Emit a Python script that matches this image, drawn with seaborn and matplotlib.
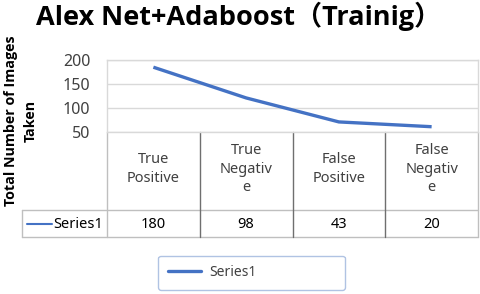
import matplotlib
matplotlib.use("Agg")
import matplotlib.pyplot as plt
import matplotlib.transforms as mtransforms
from matplotlib.lines import Line2D
import seaborn as sns
import pandas as pd

# ---- data ----
categories = ["True Positive", "True Negative", "False Positive", "False Negative"]
header_labels = ["True\nPositive", "True\nNegativ\ne", "False\nPositive", "False\nNegativ\ne"]
table_values = [180, 98, 43, 20]          # values printed in the data table
line_values = [185, 121, 71, 61]          # values
series_name = "Series1"
y_ticks = [50, 100, 150, 200]
title = "Alex Net+Adaboost（Trainig）"
y_label = "Total Number of Images\nTaken"

sns.set_theme(style="white")
plt.rcParams["font.family"] = ["Noto Sans", "Noto Sans CJK SC", "DejaVu Sans"]
BOLD_FAM = ["Open Sans", "Noto Sans CJK SC", "DejaVu Sans"]

LINE_C = "#4472C4"
GRID_C = "#d9d9d9"
TXT_C = "#404040"

fig = plt.figure(figsize=(4.8, 2.94), dpi=100)
W, H = 480, 294
ax_l, ax_r, ax_t, ax_b = 107, 478, 60, 132
ax = fig.add_axes([ax_l / W, 1 - ax_b / H, (ax_r - ax_l) / W, (ax_b - ax_t) / H])

df = pd.DataFrame({"cat": range(len(categories)), "val": line_values})
sns.lineplot(data=df, x="cat", y="val", ax=ax, color=LINE_C, linewidth=2.4,
             legend=False, solid_capstyle="butt")

ax.set_xlim(-0.5, len(categories) - 0.5)
ax.set_ylim(y_ticks[0], y_ticks[-1])
ax.set_yticks(y_ticks)
ax.set_xticks([])
ax.set_xlabel("")
ax.set_ylabel("")
ax.tick_params(axis="y", length=0, pad=12, labelsize=11.5, labelcolor=TXT_C)
for t in y_ticks:
    ax.axhline(t, color=GRID_C, linewidth=1.0, zorder=0)
for s in ax.spines.values():
    s.set_color(GRID_C)
    s.set_linewidth(1.0)

# y label (figure coords)
fig.text(21 / W, 1 - 121 / H, y_label, rotation=90, ha="center", va="center",
         fontsize=10.3, fontweight="bold", color="black", linespacing=1.5,
         family=BOLD_FAM)

# title
fig.text(239 / W, 1 - 16 / H, title, ha="center", va="center",
         fontsize=19.5, fontweight="bold", color="black", family=BOLD_FAM)

# ---- data table below the plot ----
ax_h = ax_b - ax_t
ax_w = ax_r - ax_l
def ay(px):  # figure px y -> axes fraction
    return (ax_b - px) / ax_h
def axx(px):
    return (px - ax_l) / ax_w

trans = mtransforms.blended_transform_factory(ax.transData, ax.transAxes)
header_bot, row_bot = 210, 237
left_px = 22
TBL_LIGHT = "#bfbfbf"
TBL_DARK = "#6f6f6f"

for ypx in (header_bot, row_bot):
    ax.plot([axx(left_px), 1], [ay(ypx), ay(ypx)], transform=ax.transAxes,
            color=TBL_LIGHT, linewidth=1.0, clip_on=False)
ax.plot([axx(left_px)] * 2, [ay(header_bot), ay(row_bot)], transform=ax.transAxes,
        color=TBL_LIGHT, linewidth=1.0, clip_on=False)
ax.plot([0, 0], [0, ay(row_bot)], transform=ax.transAxes,
        color=TBL_LIGHT, linewidth=1.0, clip_on=False)
ax.plot([1, 1], [0, ay(row_bot)], transform=ax.transAxes,
        color=TBL_LIGHT, linewidth=1.0, clip_on=False)
for i in range(1, len(categories)):
    ax.plot([i - 0.5, i - 0.5], [0, ay(row_bot)], transform=trans,
            color=TBL_DARK, linewidth=1.0, clip_on=False)

for i, (lab, v) in enumerate(zip(header_labels, table_values)):
    ax.text(i, ay(169), lab, transform=trans, ha="center", va="center",
            fontsize=10.5, color=TXT_C, linespacing=1.3)
    ax.text(i, ay(224), str(v), transform=trans, ha="center", va="center",
            fontsize=10.5, color="black")

ax.plot([axx(27), axx(52)], [ay(224), ay(224)], transform=ax.transAxes,
        color=LINE_C, linewidth=1.5, clip_on=False)
ax.text(axx(53), ay(224), series_name, transform=ax.transAxes, ha="left",
        va="center", fontsize=10.5, color="black")

# ---- legend ----
handle = Line2D([0], [0], color=LINE_C, linewidth=2.4)
leg = fig.legend([handle], [series_name], loc="lower left",
                 bbox_to_anchor=(158 / W, 4 / H, (345 - 158) / W, 34 / H),
                 mode="expand", fontsize=10, handlelength=2.4, handletextpad=0.6,
                 borderpad=0.7, frameon=True, fancybox=True, borderaxespad=0)
leg.get_frame().set_edgecolor("#9db4dc")
leg.get_frame().set_linewidth(1.0)
for t in leg.get_texts():
    t.set_color(TXT_C)

fig.savefig("out.png", dpi=100)
